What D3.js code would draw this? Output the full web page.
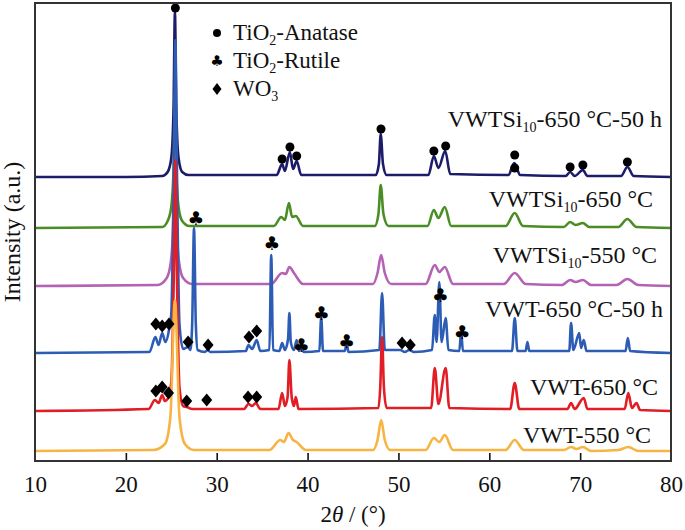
<!DOCTYPE html>
<html><head><meta charset="utf-8">
<script src="https://cdn.jsdelivr.net/npm/d3@7"></script>
<style>
html,body{margin:0;padding:0;background:#fff;}
svg{display:block;font-family:"Liberation Serif","Times New Roman",serif;}
</style></head>
<body><svg id="c" width="685" height="530"></svg>
<script>
// ---------------- DATA ----------------
const xTicks = [10, 20, 30, 40, 50, 60, 70, 80];
const sampleNames = [
  ["VWTSi", "10", "-650 °C-50 h"],
  ["VWTSi", "10", "-650 °C"],
  ["VWTSi", "10", "-550 °C"],
  ["VWT", "", "-650 °C-50 h"],
  ["VWT", "", "-650 °C"],
  ["VWT", "", "-550 °C"]
];
// vertical offset of each pattern (a.u.)
const offsets = [283, 232, 174, 107, 49, 9];
// [2theta, intensity above own baseline]
const patNavy = [[10,1],[20,1],[24.0,2],[24.6,6],[25.0,20],[25.25,70],[25.4,166],[25.55,70],[25.8,20],[26.2,6],[26.9,3],[36.6,3],[37.2,14],[37.5,7],[38.05,26],[38.4,9],[38.8,17],[39.3,3],[47.5,3],[47.85,14],[48.05,44],[48.3,14],[48.7,3],[53.3,3],[53.9,22],[54.4,10],[55.15,27],[55.7,4],[62.1,3],[62.75,15],[63.4,3],[68.4,2],[68.9,6],[69.4,2],[70.3,8],[70.8,2],[74.5,2],[75.2,11],[75.9,2],[80,1]];
const patGreen = [[10,1],[24.0,2],[24.6,8],[25.0,22],[25.25,60],[25.4,135],[25.55,60],[25.8,22],[26.2,8],[27,3],[36.3,3],[37.1,12],[37.5,9],[37.95,26],[38.3,12],[38.7,13],[39.5,3],[47.4,3],[47.8,15],[48.05,44],[48.35,15],[48.9,3],[53.2,3],[53.9,19],[54.4,11],[55.1,22],[55.8,3],[61.8,3],[62.8,16],[63.7,3],[68.2,2],[68.9,7],[69.5,4],[70.3,6],[71,2],[74.2,2],[75.2,10],[76.2,2],[80,1]];
const patPurple = [[10,1],[23.5,2],[24.5,9],[24.95,25],[25.2,60],[25.4,137],[25.6,60],[25.85,25],[26.3,9],[27.3,3],[36,3],[37.2,14],[37.6,13],[38.0,20],[38.5,14],[39.5,3],[47.2,3],[47.7,14],[48.1,32],[48.5,14],[49.2,3],[53,3],[54,22],[54.5,15],[55.1,20],[56,3],[61.6,3],[62.8,14],[64,3],[68,2],[68.9,7],[69.5,5],[70.3,7],[71.2,2],[74,2],[75.2,8],[76.4,2],[80,1]];
const patBlue = [[10,1],[22.6,2],[23.25,17],[23.6,9],[24.0,21],[24.35,12],[24.75,24],[25.0,40],[25.3,200],[25.45,314],[25.6,200],[25.9,30],[26.3,5],[26.85,7],[27.1,4],[27.3,30],[27.5,126],[27.7,30],[27.9,4],[28.7,2],[29.0,4],[29.3,2],[33.2,3],[33.5,9],[33.9,5],[34.4,14],[34.8,3],[35.8,4],[36.0,99],[36.2,4],[36.9,3],[37.2,11],[37.5,4],[37.85,15],[38.0,41],[38.15,12],[38.5,4],[38.8,14],[39.05,3],[39.3,6],[39.6,2],[41.3,3],[41.5,37],[41.7,3],[44.1,3],[44.3,11],[44.5,2],[47.9,4],[48.2,61],[48.5,4],[50.2,4],[50.7,2],[51.2,4],[51.7,2],[53.7,4],[54.0,39],[54.2,12],[54.5,72],[54.75,12],[55.2,36],[55.5,4],[56.7,3],[56.9,22],[57.1,3],[62.5,3],[62.8,36],[63.1,3],[64.0,3],[64.2,12],[64.4,3],[68.8,3],[69.0,31],[69.25,4],[69.9,21],[70.1,6],[70.4,14],[70.7,3],[75.0,3],[75.25,16],[75.5,3],[80,1]];
const patRed = [[10,1],[22.5,3],[23.2,12],[23.6,9],[24.0,17],[24.3,11],[24.65,14],[25.0,30],[25.3,150],[25.45,252],[25.6,150],[25.9,25],[26.3,6],[26.7,5],[27.3,3],[28.9,3],[33,3],[33.5,8],[33.9,6],[34.3,9],[34.8,3],[36.8,3],[37.2,19],[37.5,6],[37.8,15],[38.0,52],[38.25,15],[38.5,6],[38.7,15],[39.0,3],[47.8,4],[48.0,25],[48.2,75],[48.4,25],[48.7,4],[53.6,4],[54.0,44],[54.4,8],[55.2,44],[55.6,4],[62.3,3],[62.8,29],[63.3,3],[68.6,3],[69.0,9],[69.4,3],[70.4,14],[70.8,3],[74.9,3],[75.3,19],[75.7,4],[76.2,9],[76.6,2],[80,1]];
const patOrange = [[10,1],[23,2],[24.3,8],[24.9,35],[25.4,152],[25.9,35],[26.5,8],[27.5,2],[35.8,2],[37.0,12],[37.4,10],[37.9,19],[38.4,12],[38.8,10],[39.8,2],[47.2,2],[47.7,12],[48.1,32],[48.5,12],[49.1,2],[53.0,2],[53.9,14],[54.5,10],[55.1,17],[56,2],[61.8,2],[62.8,12],[63.8,2],[68.2,2],[69,5],[69.6,3],[70.3,5],[71.2,1],[74.2,2],[75.3,5],[76.4,1],[80,1]];
const patterns = [patNavy, patGreen, patPurple, patBlue, patRed, patOrange];

// phase markers: [pattern index, 2theta, height above baseline]
const anataseMarks = [[0,25.45,170],[0,37.2,19],[0,38.06,31],[0,38.8,22],[0,48.08,49],[0,53.9,27],[0,55.2,32],[0,62.8,23],[0,62.8,10],[0,68.9,11],[0,70.3,13],[0,75.2,16]];
const rutileMarks = [[3,27.7,136],[3,36.05,111],[3,39.3,9],[3,41.5,41],[3,44.3,13],[3,54.6,59],[3,57.0,22]];
const wo3Marks = [[3,23.3,30],[3,24.0,28],[3,24.75,30],[3,26.85,12],[3,29.05,9],[3,33.55,17],[3,34.4,23],[3,50.4,11],[3,51.3,9],[4,23.3,21],[4,24.0,25],[4,24.7,19],[4,26.7,11],[4,28.9,12],[4,33.45,15],[4,34.4,15]];
const legendNames = [["TiO", "2", "-Anatase"], ["TiO", "2", "-Rutile"], ["WO", "3", ""]];

// ---------------- LAYOUT / STYLE ----------------
const colors = ["#1c1c6b", "#4b8d25", "#b463b4", "#2d5cb5", "#e11d25", "#f7b443"];
const labelLayout = [[662,127],[653,207],[657,263],[663,317],[658,395],[651,443]];
const L = 35, R = 671, T = 3, B = 461;

const svg = d3.select("#c");
const x = d3.scaleLinear().domain([10, 80]).range([L, R]);
const y = d3.scaleLinear().domain([0, 458]).range([B, T]);

const line = d3.line().x(d => x(d[0])).y(d => y(d[1])).curve(d3.curveMonotoneX);

const g = svg.append("g");
patterns.forEach((p, i) => {
  g.append("path")
    .datum(p.map(d => [d[0], d[1] + offsets[i]]))
    .attr("d", line)
    .attr("fill", "none")
    .attr("stroke", colors[i])
    .attr("stroke-width", 2.6)
    .attr("stroke-linejoin", "round");
});

function richText(sel, parts, small, shift) {
  sel.append("tspan").text(parts[0]);
  if (parts[1]) sel.append("tspan").attr("font-size", small).attr("dy", shift).text(parts[1]);
  sel.append("tspan").attr("dy", parts[1] ? -shift : 0).text(parts[2]);
}
sampleNames.forEach((n, i) => {
  const t = svg.append("text")
    .attr("x", labelLayout[i][0]).attr("y", labelLayout[i][1])
    .attr("text-anchor", "end").attr("font-size", 24).attr("fill", "#111");
  richText(t, n, 14, 5);
});

// markers
const diamondPath = (cx, cy, w, h) => `M${cx},${cy - h / 2}L${cx + w / 2},${cy}L${cx},${cy + h / 2}L${cx - w / 2},${cy}Z`;
svg.append("g").selectAll("circle").data(anataseMarks).join("circle")
  .attr("cx", d => x(d[1])).attr("cy", d => y(offsets[d[0]] + d[2]))
  .attr("r", 4.5).attr("fill", "#000");
svg.append("g").selectAll("text").data(rutileMarks).join("text")
  .attr("x", d => x(d[1])).attr("y", d => y(offsets[d[0]] + d[2]))
  .attr("text-anchor", "middle").attr("dominant-baseline", "central")
  .attr("font-family", "DejaVu Sans").attr("font-size", 19).text("\u2663");
svg.append("g").selectAll("path").data(wo3Marks).join("path")
  .attr("d", d => diamondPath(x(d[1]), y(offsets[d[0]] + d[2]), 11, 13))
  .attr("fill", "#000");

// legend
const legY = [33, 61, 89];
const legBase = [40, 68, 96];
svg.append("circle").attr("cx", 217).attr("cy", legY[0]).attr("r", 4).attr("fill", "#000");
svg.append("text").attr("x", 217).attr("y", legY[1]).attr("text-anchor", "middle")
  .attr("dominant-baseline", "central").attr("font-family", "DejaVu Sans").attr("font-size", 15).text("\u2663");
svg.append("path").attr("d", diamondPath(217, legY[2], 9, 12)).attr("fill", "#000");
legendNames.forEach((n, i) => {
  const t = svg.append("text").attr("x", 233).attr("y", legBase[i]).attr("font-size", 23).attr("fill", "#111");
  richText(t, n, 14, 5);
});

// axes
const ax = svg.append("g").attr("transform", `translate(0,${B})`)
  .call(d3.axisBottom(x).tickValues(xTicks).tickFormat(d3.format("d")).tickSizeInner(-8).tickSizeOuter(0).tickPadding(15));
ax.select(".domain").remove();
ax.selectAll(".tick line").attr("stroke", "#111").attr("stroke-width", 1.6)
  .attr("display", d => (d === 10 || d === 80) ? "none" : null);
ax.selectAll(".tick text").attr("font-size", 23).attr("fill", "#111")
  .attr("font-family", "Liberation Serif, Times New Roman, serif");

svg.append("rect").attr("x", L).attr("y", T).attr("width", R - L).attr("height", B - T)
  .attr("fill", "none").attr("stroke", "#333").attr("stroke-width", 2);

const xt = svg.append("text").attr("x", (L + R) / 2).attr("y", 522).attr("text-anchor", "middle")
  .attr("font-size", 23).attr("fill", "#111");
xt.append("tspan").text("2");
xt.append("tspan").attr("font-style", "italic").text("\u03b8");
xt.append("tspan").text(" / (°)");

svg.append("text").attr("transform", `translate(20,${(T + B) / 2}) rotate(-90)`)
  .attr("text-anchor", "middle").attr("font-size", 24).attr("fill", "#111")
  .text("Intensity (a.u.)");
</script></body></html>
